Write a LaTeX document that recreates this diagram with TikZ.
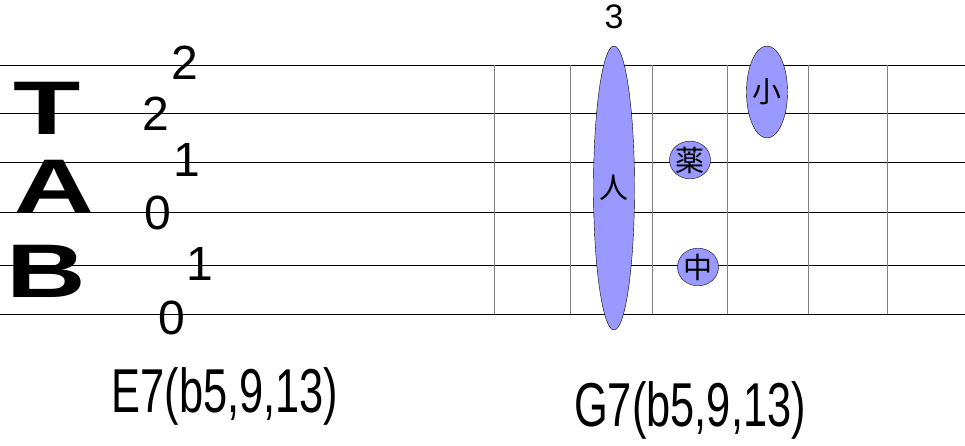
\documentclass[tikz,border=0pt]{standalone}
\usepackage{fontspec}
\setmainfont{Liberation Sans}
\newfontfamily\cjk{Noto Sans CJK JP}
\usetikzlibrary{shapes.geometric}
\tikzset{
    fret/.style={gray, thick},
    fingr/.style={draw, fill=blue!40, ellipse, inner sep=0pt},
    fretnum/.style={font=\fontsize{48}{48}\selectfont},
    tabletter/.style={font=\fontsize{76}{76}\bfseries\selectfont, xscale=1.45, inner sep=0pt},
    chordname/.style={font=\fontsize{62}{62}\selectfont, xscale=0.7}
}
\begin{document}
\begin{tikzpicture}[x=1pt, y=-1pt]
    \useasboundingbox (0,0) rectangle (965,446);

    % Strings
    \foreach \y in {65,113,162,212,265,314}
        \draw[semithick] (0,\y) -- (965,\y);

    % Frets
    \foreach \x in {494,570,652,727,808,887}
        \draw[fret] (\x,65) -- (\x,314);

    % TAB letters
    \node[tabletter] (tabT) at (47,108) {T};
    \node[tabletter] (tabA) at (54,186) {A};
    \node[tabletter] (tabB) at (46,271) {B};

    % E7 fret numbers
    \node[fretnum] (n1) at (185,63) {2};
    \node[fretnum] (n2) at (156,114) {2};
    \node[fretnum] (n3) at (187,160) {1};
    \node[fretnum] (n4) at (158,213) {0};
    \node[fretnum] (n5) at (200,264) {1};
    \node[fretnum] (n6) at (172,318) {0};

    % G7 fingering
    \node[font=\fontsize{34}{34}\selectfont] (pos) at (614,17) {3};
    \node[fingr, minimum width=30pt, minimum height=284pt] (hito) at (614,188) {\cjk\fontsize{29}{29}\selectfont 人};
    \node[fingr, minimum width=31pt, minimum height=92pt] (ko) at (767,92) {\cjk\fontsize{29}{29}\selectfont 小};
    \node[fingr, minimum size=34pt] (kusuri) at (690,160) {\cjk\fontsize{29}{29}\selectfont 薬};
    \node[fingr, minimum size=34pt] (naka) at (698,267) {\cjk\fontsize{29}{29}\selectfont 中};

    % Chord names
    \node[chordname] (e7) at (225,396) {E7(b5,9,13)};
    \node[chordname] (g7) at (690,410) {G7(b5,9,13)};
\end{tikzpicture}
\end{document}
